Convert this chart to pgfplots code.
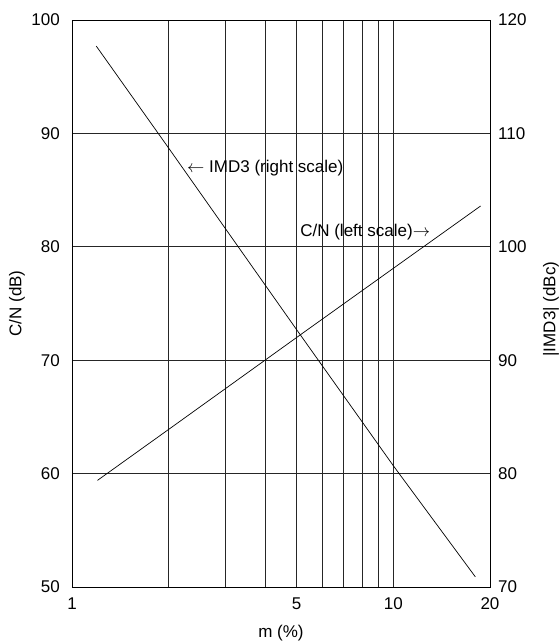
\documentclass[border=0pt]{standalone}
\usepackage{fontspec}
\setmainfont{Liberation Sans}
\usepackage{pgfplots}
\pgfplotsset{compat=1.18}
\newcommand{\bigf}{\fontsize{17}{20}\selectfont}
\begin{document}
\begin{tikzpicture}[font=\bigf]
\begin{axis}[
  scale only axis, width=418pt, height=567pt,
  xmode=log, xmin=1, xmax=20,
  major tick length=0pt, minor tick length=0pt,
  axis line style={black, line width=0.7pt},
  /pgf/number format/assume math mode=true,
  tick label style={font=\bigf},
  label style={font=\bigf},
  ymin=50, ymax=100,
  xtick={1,5,10,20}, xticklabels={1,5,10,20},
  minor xtick={2,3,4,6,7,8,9},
  ytick={50,60,...,100},
  grid=both,
  major grid style={black!85, line width=0.7pt},
  minor grid style={black!85, line width=0.7pt},
  xticklabel style={anchor=center, inner sep=0pt, yshift=-16.5pt},
  yticklabel style={anchor=east, inner sep=0pt, xshift=-12pt},
  xlabel={m (\%)},
  ylabel={C/N (dB)},
  every axis x label/.style={at={(axis description cs:0.5,-0.081)}, anchor=center, font=\bigf},
  every axis y label/.style={at={(axis description cs:-0.1316,0.5)}, anchor=center, rotate=90, font=\bigf},
]
\coordinate (SW) at (rel axis cs:0,0);
\addplot[black, line width=0.7pt] coordinates {
  (1.2,59.4) (2,63.9) (5,72.0) (10,78.1) (18.7,83.6)
};
\node[anchor=west, inner sep=0pt, font=\bigf] at (axis cs:2.28,86.95) {$\leftarrow$ IMD3 (right scale)};
\node[anchor=west, inner sep=0pt, font=\bigf] at (axis cs:5.13,81.3) {C/N (left scale)$\rightarrow$};
\end{axis}
\begin{axis}[
  scale only axis, width=418pt, height=567pt,
  xmode=log, xmin=1, xmax=20,
  major tick length=0pt, minor tick length=0pt,
  axis line style={black, line width=0.7pt},
  /pgf/number format/assume math mode=true,
  tick label style={font=\bigf},
  ymin=70, ymax=120,
  axis y line*=right, axis x line=none,
  ytick={70,80,...,120},
  yticklabel style={anchor=west, inner sep=0pt, xshift=8pt},
  ylabel={|IMD3| (dBc)},
  every axis y label/.style={at={(axis description cs:1.146,0.49)}, anchor=center, rotate=90, font=\bigf},
]
\addplot[black, line width=0.7pt] coordinates {
  (1.19,117.7) (2,108.7) (5,92.7) (10,80.7) (18,70.9)
};
\end{axis}
\pgfresetboundingbox
\path (SW) ++(-72pt,-54pt) rectangle ++(558pt,641pt);
\end{tikzpicture}
\end{document}
